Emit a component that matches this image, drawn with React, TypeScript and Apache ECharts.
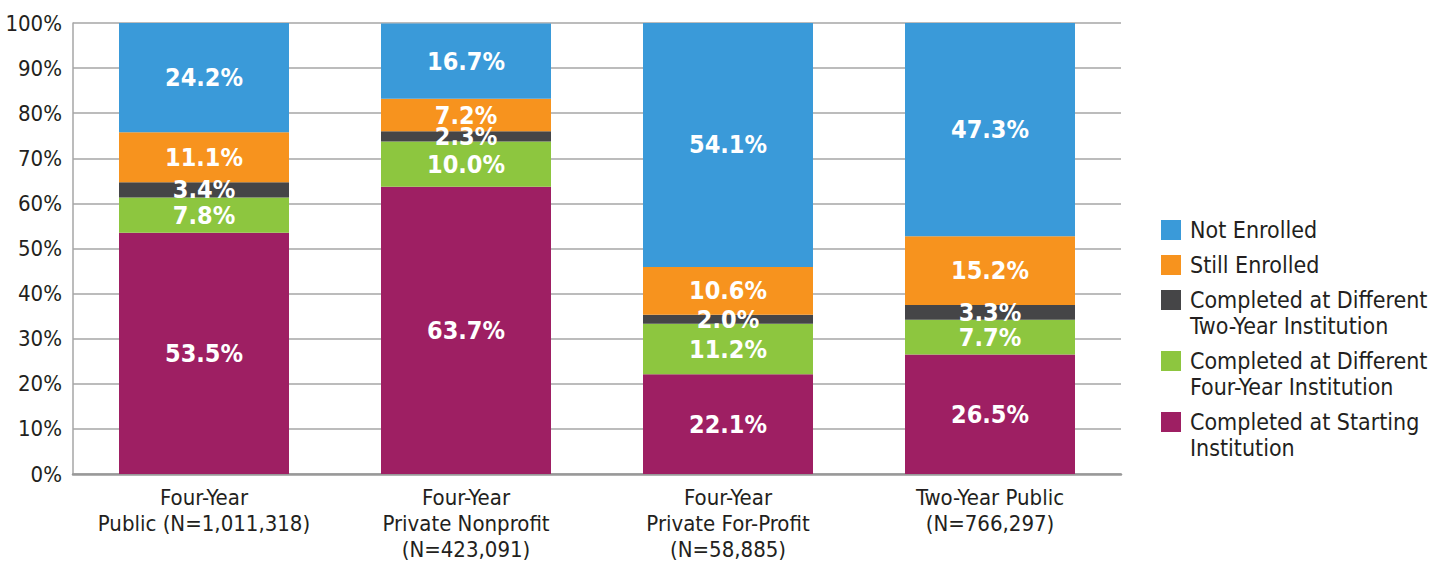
import React, { useEffect, useRef } from "react";
import * as echarts from "echarts";

const categories = [
  "Four-Year\nPublic (N=1,011,318)",
  "Four-Year\nPrivate Nonprofit\n(N=423,091)",
  "Four-Year\nPrivate For-Profit\n(N=58,885)",
  "Two-Year Public\n(N=766,297)",
];

// bottom to top
const seriesNames = [
  "Completed at Starting\nInstitution",
  "Completed at Different\nFour-Year Institution",
  "Completed at Different\nTwo-Year Institution",
  "Still Enrolled",
  "Not Enrolled",
];
const seriesColors = ["#9e1f63", "#8dc63f", "#454547", "#f7931e", "#3a9ad9"];

const completedStarting = [53.5, 63.7, 22.1, 26.5];
const completedFourYear = [7.8, 10.0, 11.2, 7.7];
const completedTwoYear = [3.4, 2.3, 2.0, 3.3];
const stillEnrolled = [11.1, 7.2, 10.6, 15.2];
const notEnrolled = [24.2, 16.7, 54.1, 47.3];

const seriesValues = [completedStarting, completedFourYear, completedTwoYear, stillEnrolled, notEnrolled];

const FONT = "'DejaVu Sans Condensed', sans-serif";
const TEXT = "#231f20";

export default function App() {
  const ref = useRef<HTMLDivElement>(null);

  useEffect(() => {
    if (!ref.current) return;
    const chart = echarts.init(ref.current, undefined, { renderer: "svg" });

    // legend (top to bottom = reverse stacking order)
    const legendOrder = [4, 3, 2, 1, 0];
    const legendEls: any[] = [];
    let y = 230;
    legendOrder.forEach((i) => {
      const lines = seriesNames[i].split("\n").length;
      legendEls.push({
        type: "rect",
        shape: { x: 1161, y: y - 10, width: 20, height: 20 },
        style: { fill: seriesColors[i] },
      });
      legendEls.push({
        type: "text",
        x: 1190,
        y: y - 13,
        style: {
          text: seriesNames[i],
          font: `23px ${FONT}`,
          fill: TEXT,
          lineHeight: 26,
          verticalAlign: "top",
          align: "left",
        },
      });
      y += 35 + 26 * (lines - 1);
    });

    chart.setOption({
      animation: false,
      grid: {
        left: 73,
        right: 327,
        top: 23,
        bottom: 89,
        containLabel: false,
        outerBoundsMode: "none",
      },
      xAxis: {
        type: "category",
        data: categories,
        axisLine: { show: true, lineStyle: { color: "#999999", width: 2.5 } },
        axisTick: { show: false },
        axisLabel: {
          margin: 10,
          color: TEXT,
          fontFamily: FONT,
          fontSize: 22,
          lineHeight: 26,
          interval: 0,
        },
      },
      yAxis: {
        type: "value",
        min: 0,
        max: 100,
        interval: 10,
        axisLine: { show: true, lineStyle: { color: "#a6a6a6", width: 1.5 } },
        axisTick: { show: false },
        splitLine: { show: true, lineStyle: { color: "#a6a6a6", width: 1.5 } },
        axisLabel: {
          formatter: "{value}%",
          margin: 11,
          color: TEXT,
          fontFamily: FONT,
          fontSize: 22,
        },
      },
      graphic: legendEls,
      series: seriesNames.map((name, i) => ({
        name,
        type: "bar",
        stack: "total",
        barWidth: 170,
        data: seriesValues[i],
        itemStyle: { color: seriesColors[i] },
        label: {
          show: true,
          position: "inside",
          formatter: (p: any) => `${Number(p.value).toFixed(1)}%`,
          color: "#ffffff",
          fontFamily: FONT,
          fontWeight: "bold",
          fontSize: 25,
        },
      })),
    });

    return () => chart.dispose();
  }, []);

  return (
    <div
      ref={ref}
      style={{ position: "fixed", left: 0, top: 0, width: 1448, height: 563, background: "#ffffff" }}
    />
  );
}
